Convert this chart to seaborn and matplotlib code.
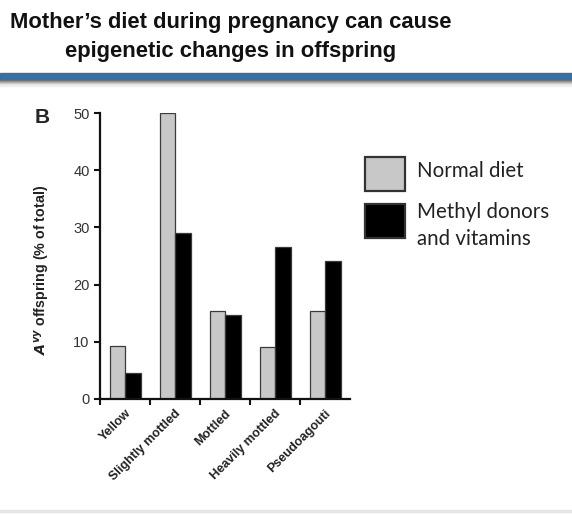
import numpy as np
import pandas as pd
import matplotlib
matplotlib.use("Agg")
import matplotlib.pyplot as plt
from matplotlib.patches import Rectangle
import seaborn as sns

categories = ["Yellow", "Slightly mottled", "Mottled", "Heavily mottled", "Pseudoagouti"]
normal_diet = [9.2, 50.0, 15.4, 9.1, 15.4]
methyl_diet = [4.6, 29.1, 14.6, 26.6, 24.2]
series_names = ["Normal diet", "Methyl donors\nand vitamins"]
series_colors = ["#c8c8c8", "#000000"]
y_ticks = [0, 10, 20, 30, 40, 50]

df = pd.DataFrame({
    "phenotype": categories * 2,
    "diet": [series_names[0]] * len(categories) + [series_names[1]] * len(categories),
    "pct": normal_diet + methyl_diet,
})

sns.set_style("ticks")
plt.rcParams["font.family"] = ["Liberation Sans", "DejaVu Sans"]

W, H = 572, 515
fig = plt.figure(figsize=(W / 100, H / 100), dpi=100)
fig.patch.set_facecolor("white")

# slide title
fig.text(0.403, 1 - 37 / H, "Mother\u2019s diet during pregnancy can cause\nepigenetic changes in offspring",
         ha="center", va="center", fontsize=15.8, fontweight="bold", color="#111111", linespacing=1.45)

# blue rule with grey shadow under it
fig.patches.append(Rectangle((0, 1 - 80 / H), 1, 7 / H, transform=fig.transFigure,
                             color="#3a6e9f", zorder=1))
for i, g in enumerate(["#6b6b6b", "#8a8a8a", "#a9a9a9", "#c6c6c6", "#dfdfdf", "#efefef"]):
    fig.patches.append(Rectangle((0, 1 - (81 + i) / H), 1, 1.05 / H, transform=fig.transFigure,
                                 color=g, zorder=1))
fig.patches.append(Rectangle((0, 1 - 512 / H), 1, 2 / H, transform=fig.transFigure,
                             color="#e4e4e4", zorder=1))

ax = fig.add_axes([100 / W, 1 - 399 / H, 250 / W, 286 / H])
sns.barplot(data=df, x="phenotype", y="pct", hue="diet", hue_order=series_names,
            palette=series_colors, width=0.62, gap=0, saturation=1,
            edgecolor="#3a3a3a", linewidth=0.9, legend=False, ax=ax)

ax.set_xlim(-0.5, 4.5)
ax.set_ylim(0, 50)
ax.set_yticks(y_ticks)
ax.set_yticklabels([str(t) for t in y_ticks], fontsize=10.5, color="#333333")
ax.set_xticks(np.arange(len(categories)) - 0.5)
ax.set_xticklabels([])
ax.set_xticks(np.arange(len(categories)), minor=True)
ax.set_xticklabels(categories, minor=True, rotation=45, ha="right", rotation_mode="anchor",
                   fontsize=9.1, fontweight="bold", color="#222222")
ax.tick_params(axis="x", which="minor", length=0, pad=6)
ax.tick_params(axis="both", which="major", length=4, width=1.5, direction="out", color="#111111")
ax.set_xlabel("")
ax.set_ylabel("")
sns.despine(ax=ax)
for s in ["left", "bottom"]:
    ax.spines[s].set_linewidth(1.6)
    ax.spines[s].set_color("#111111")

fig.text(42 / W, 1 - 270 / H, r"$\mathbfit{A}^{\mathbfit{vy}}$ offspring (% of total)",
         rotation=90, ha="center", va="center", fontsize=10.3, fontweight="bold", color="#222222")
fig.text(35 / W, 1 - 118 / H, "B", ha="left", va="center", fontsize=15, fontweight="bold")

# legend drawn by hand: big swatches with text to their right
box_tops = [157, 204]
text_centers = [171, 225.5]
for name, col, top, tc in zip(series_names, series_colors, box_tops, text_centers):
    fig.patches.append(Rectangle((365 / W, 1 - (top + 34) / H), 40 / W, 34 / H,
                                 transform=fig.transFigure, facecolor=col,
                                 edgecolor="#333333", linewidth=1.6))
    fig.text(417 / W, 1 - tc / H, name, ha="left", va="center", fontsize=14.8,
             family=["Lato", "DejaVu Sans"], color="#222222", linespacing=1.45)

fig.savefig("out.png", dpi=100, facecolor="white")
